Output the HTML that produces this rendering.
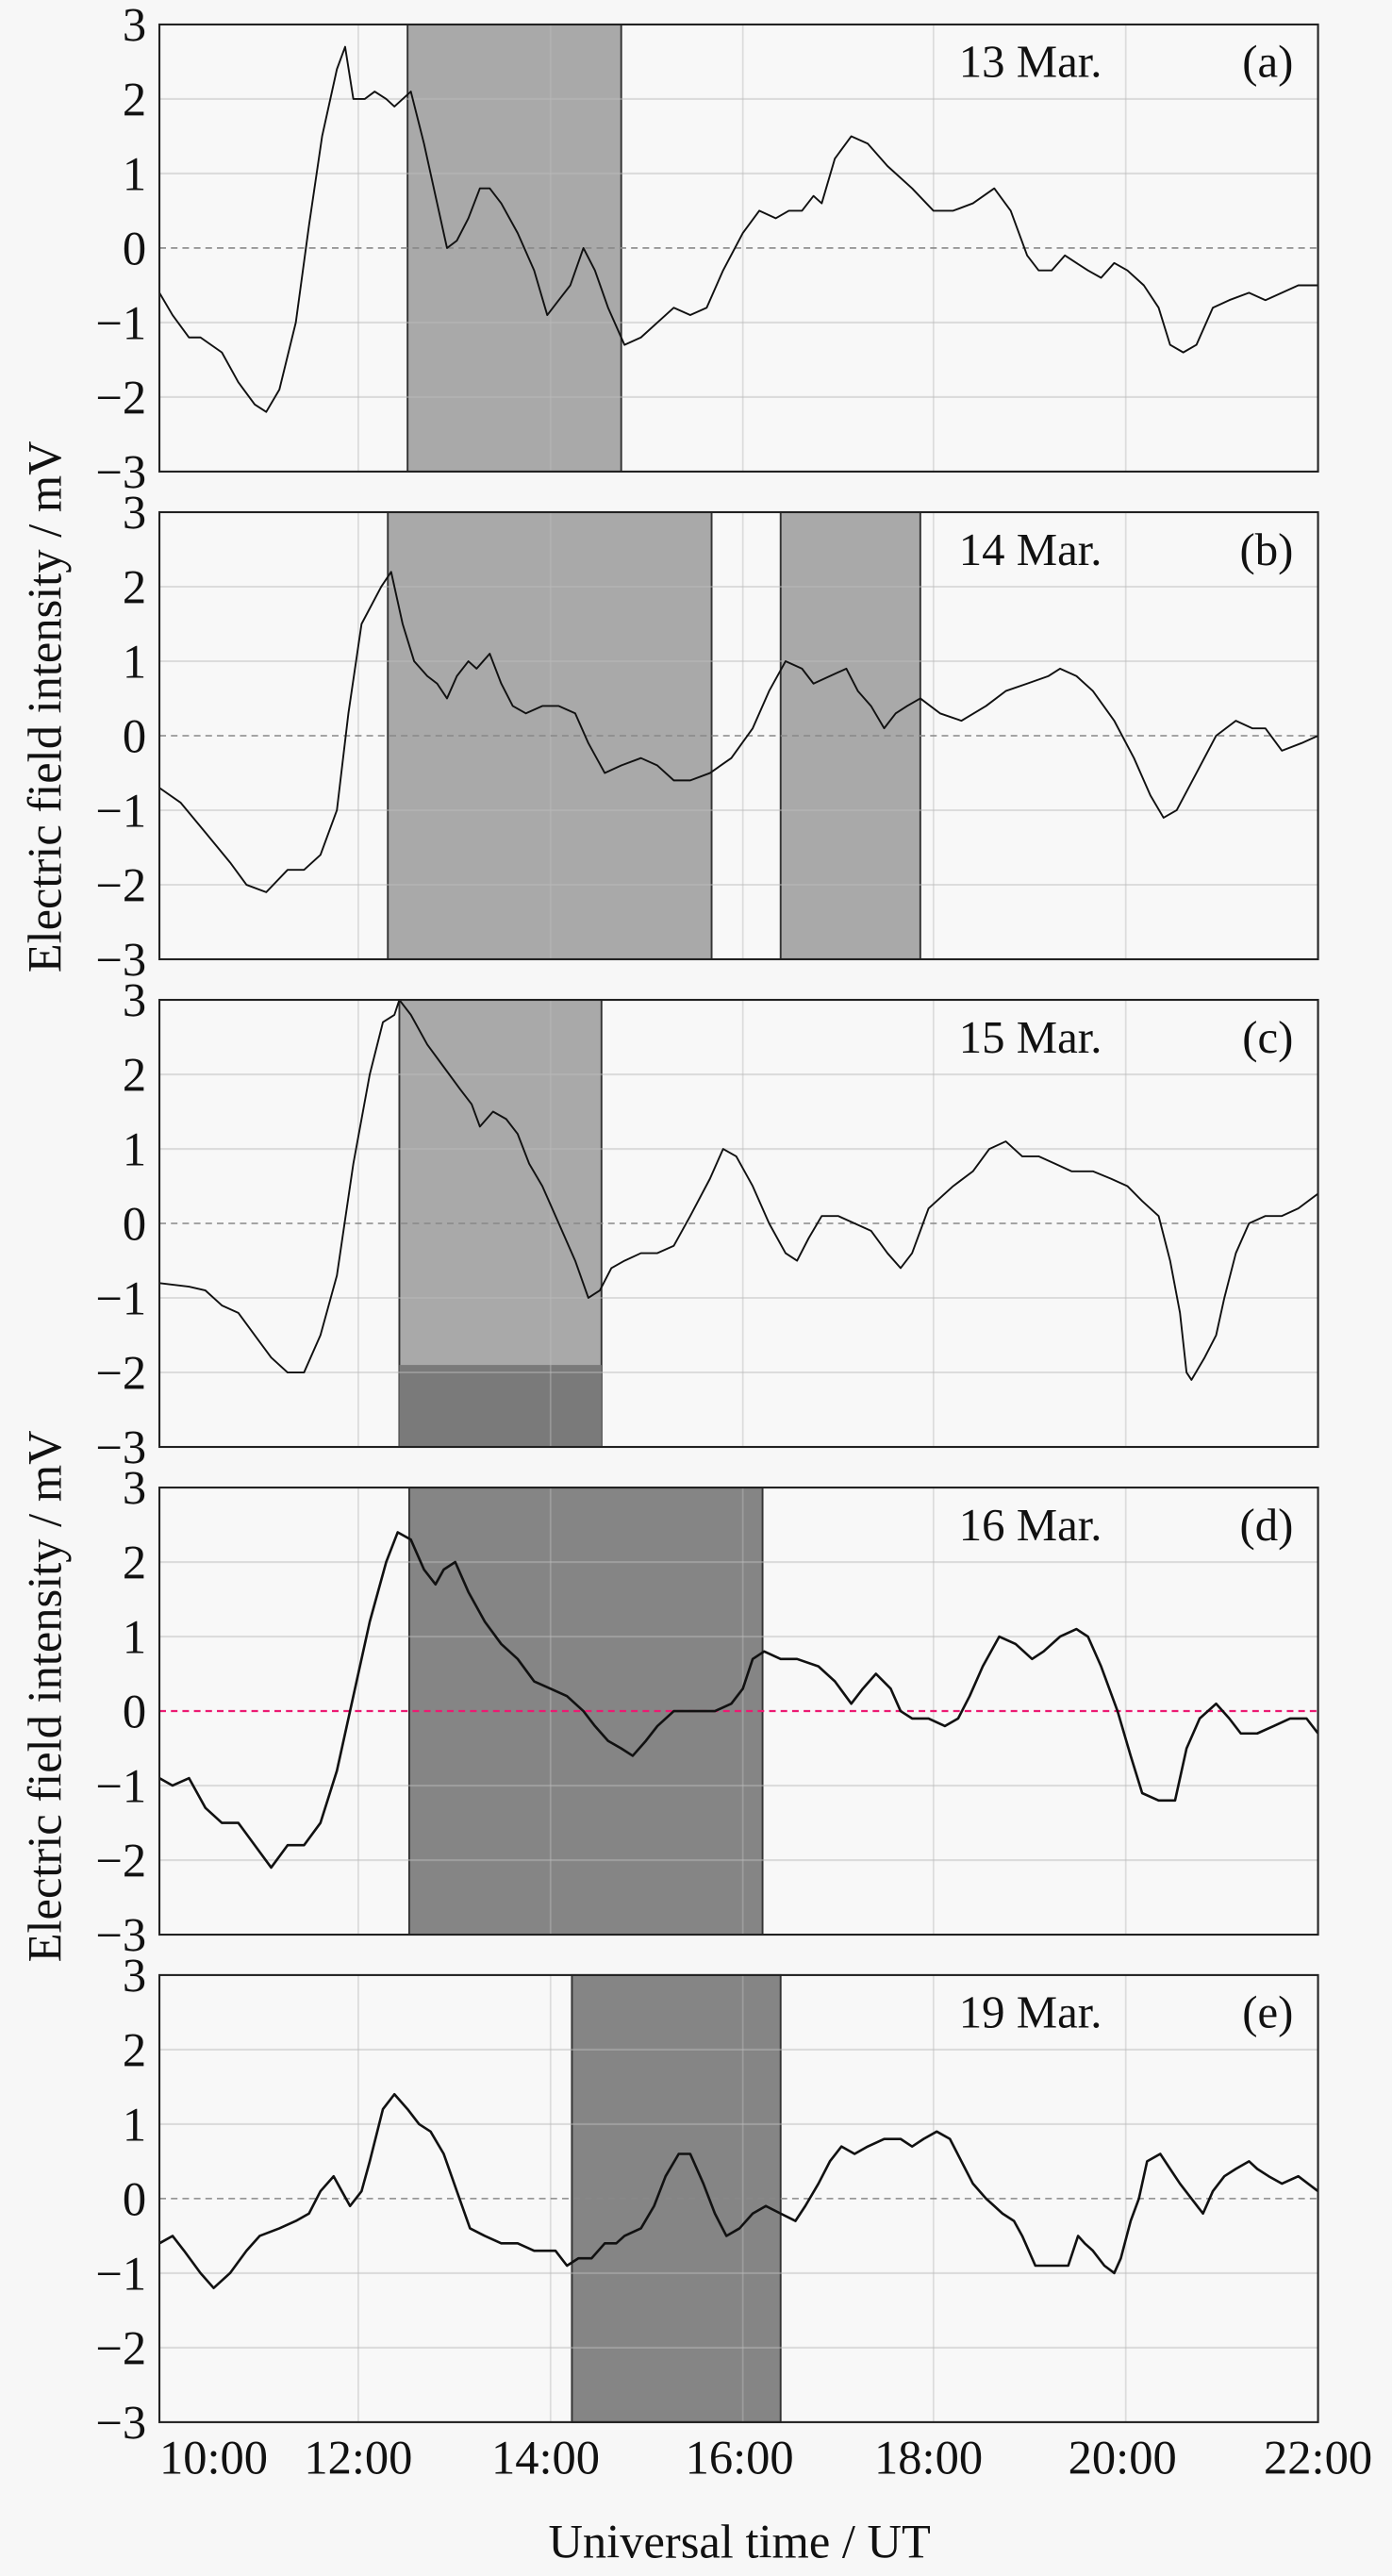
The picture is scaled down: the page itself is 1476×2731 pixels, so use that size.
<!DOCTYPE html>
<html><head><meta charset="utf-8"><style>
html,body{margin:0;padding:0;background:#f7f7f7;}
svg{display:block;}
text{font-family:"Liberation Serif",serif;fill:#111;}
</style></head><body>
<svg id="s" width="1476" height="2731" viewBox="0 0 1476 2731" xmlns="http://www.w3.org/2000/svg">
<rect width="1476" height="2731" fill="#f7f7f7"/>
<g id="g" transform="scale(1.7426)"></g>
</svg>
<script>
const NS="http://www.w3.org/2000/svg";
const g=document.getElementById('g');
function el(t,a,txt){const e=document.createElementNS(NS,t);for(const k in a)e.setAttribute(k,a[k]);if(txt!==undefined)e.textContent=txt;g.appendChild(e);return e;}
const L=97,R=802,H=272;
const tops=[14.9,311.6,608.3,905,1201.6];
const gx=[218,335,452,568,685];
const panels=[
 {date:"13 Mar.",lab:"(a)",shade:[[248,378,'#a9a9a9']],red:false,sw:1.1,
  d:[[97,-0.6],[105,-0.9],[115,-1.2],[122,-1.2],[135,-1.4],[145,-1.8],[155,-2.1],[162,-2.2],[170,-1.9],[180,-1.0],[188,0.3],[196,1.5],[205,2.4],[210,2.7],[215,2.0],[222,2.0],[228,2.1],[235,2.0],[240,1.9],[250,2.1],[258,1.4],[265,0.7],[272,0.0],[278,0.1],[285,0.4],[292,0.8],[298,0.8],[305,0.6],[315,0.2],[325,-0.3],[333,-0.9],[340,-0.7],[347,-0.5],[355,0.0],[362,-0.3],[370,-0.8],[380,-1.3],[390,-1.2],[400,-1.0],[410,-0.8],[420,-0.9],[430,-0.8],[440,-0.3],[452,0.2],[462,0.5],[472,0.4],[480,0.5],[488,0.5],[495,0.7],[500,0.6],[508,1.2],[518,1.5],[528,1.4],[540,1.1],[555,0.8],[568,0.5],[580,0.5],[592,0.6],[605,0.8],[615,0.5],[625,-0.1],[632,-0.3],[640,-0.3],[648,-0.1],[655,-0.2],[662,-0.3],[670,-0.4],[678,-0.2],[686,-0.3],[696,-0.5],[705,-0.8],[712,-1.3],[720,-1.4],[728,-1.3],[738,-0.8],[748,-0.7],[760,-0.6],[770,-0.7],[780,-0.6],[790,-0.5],[802,-0.5]]},
 {date:"14 Mar.",lab:"(b)",shade:[[236,433,'#a9a9a9'],[475,560,'#a9a9a9']],red:false,sw:1.1,
  d:[[97,-0.7],[110,-0.9],[125,-1.3],[140,-1.7],[150,-2.0],[162,-2.1],[175,-1.8],[185,-1.8],[195,-1.6],[205,-1.0],[212,0.3],[220,1.5],[232,2.0],[238,2.2],[245,1.5],[252,1.0],[260,0.8],[266,0.7],[272,0.5],[278,0.8],[285,1.0],[290,0.9],[298,1.1],[305,0.7],[312,0.4],[320,0.3],[330,0.4],[340,0.4],[350,0.3],[358,-0.1],[368,-0.5],[378,-0.4],[390,-0.3],[400,-0.4],[410,-0.6],[420,-0.6],[432,-0.5],[445,-0.3],[458,0.1],[468,0.6],[478,1.0],[488,0.9],[495,0.7],[505,0.8],[515,0.9],[522,0.6],[530,0.4],[538,0.1],[545,0.3],[552,0.4],[560,0.5],[572,0.3],[585,0.2],[600,0.4],[612,0.6],[625,0.7],[638,0.8],[645,0.9],[655,0.8],[665,0.6],[678,0.2],[690,-0.3],[700,-0.8],[708,-1.1],[716,-1.0],[728,-0.5],[740,0.0],[752,0.2],[762,0.1],[770,0.1],[780,-0.2],[792,-0.1],[802,0.0]]},
 {date:"15 Mar.",lab:"(c)",shade:[[243,366,'#a9a9a9']],dark:[243,366,-1.9],red:false,sw:1.1,
  d:[[97,-0.8],[115,-0.85],[125,-0.9],[135,-1.1],[145,-1.2],[155,-1.5],[165,-1.8],[175,-2.0],[185,-2.0],[195,-1.5],[205,-0.7],[215,0.8],[225,2.0],[233,2.7],[240,2.8],[243,3.0],[250,2.8],[260,2.4],[270,2.1],[280,1.8],[287,1.6],[292,1.3],[300,1.5],[308,1.4],[315,1.2],[322,0.8],[330,0.5],[340,0.0],[350,-0.5],[358,-1.0],[365,-0.9],[372,-0.6],[380,-0.5],[390,-0.4],[400,-0.4],[410,-0.3],[420,0.1],[432,0.6],[440,1.0],[448,0.9],[458,0.5],[468,0.0],[478,-0.4],[485,-0.5],[492,-0.2],[500,0.1],[510,0.1],[520,0.0],[530,-0.1],[540,-0.4],[548,-0.6],[555,-0.4],[560,-0.1],[565,0.2],[580,0.5],[592,0.7],[602,1.0],[612,1.1],[622,0.9],[632,0.9],[642,0.8],[652,0.7],[665,0.7],[676,0.6],[686,0.5],[695,0.3],[705,0.1],[712,-0.5],[718,-1.2],[722,-2.0],[725,-2.1],[733,-1.8],[740,-1.5],[745,-1.0],[752,-0.4],[760,0.0],[770,0.1],[780,0.1],[790,0.2],[802,0.4]]},
 {date:"16 Mar.",lab:"(d)",shade:[[249,464,'#858585']],red:true,sw:1.5,
  d:[[97,-0.9],[105,-1.0],[115,-0.9],[125,-1.3],[135,-1.5],[145,-1.5],[155,-1.8],[165,-2.1],[175,-1.8],[185,-1.8],[195,-1.5],[205,-0.8],[215,0.2],[225,1.2],[235,2.0],[242,2.4],[250,2.3],[258,1.9],[265,1.7],[270,1.9],[277,2.0],[285,1.6],[295,1.2],[305,0.9],[315,0.7],[325,0.4],[335,0.3],[345,0.2],[355,0.0],[362,-0.2],[370,-0.4],[378,-0.5],[385,-0.6],[393,-0.4],[400,-0.2],[410,0.0],[420,0.0],[435,0.0],[445,0.1],[452,0.3],[458,0.7],[465,0.8],[475,0.7],[485,0.7],[498,0.6],[508,0.4],[518,0.1],[525,0.3],[533,0.5],[542,0.3],[548,0.0],[555,-0.1],[565,-0.1],[575,-0.2],[583,-0.1],[590,0.2],[598,0.6],[608,1.0],[618,0.9],[628,0.7],[635,0.8],[645,1.0],[655,1.1],[662,1.0],[670,0.6],[680,0.0],[688,-0.6],[695,-1.1],[705,-1.2],[715,-1.2],[722,-0.5],[730,-0.1],[740,0.1],[748,-0.1],[755,-0.3],[765,-0.3],[775,-0.2],[785,-0.1],[795,-0.1],[802,-0.3]]},
 {date:"19 Mar.",lab:"(e)",shade:[[348,475,'#858585']],red:false,sw:1.5,
  d:[[97,-0.6],[105,-0.5],[112,-0.7],[122,-1.0],[130,-1.2],[140,-1.0],[150,-0.7],[158,-0.5],[170,-0.4],[180,-0.3],[188,-0.2],[195,0.1],[203,0.3],[208,0.1],[213,-0.1],[220,0.1],[225,0.5],[233,1.2],[240,1.4],[248,1.2],[255,1.0],[262,0.9],[270,0.6],[278,0.1],[286,-0.4],[295,-0.5],[305,-0.6],[315,-0.6],[325,-0.7],[338,-0.7],[345,-0.9],[352,-0.8],[360,-0.8],[368,-0.6],[375,-0.6],[380,-0.5],[390,-0.4],[398,-0.1],[405,0.3],[413,0.6],[420,0.6],[428,0.2],[435,-0.2],[442,-0.5],[450,-0.4],[458,-0.2],[466,-0.1],[475,-0.2],[484,-0.3],[490,-0.1],[498,0.2],[505,0.5],[512,0.7],[520,0.6],[528,0.7],[538,0.8],[548,0.8],[555,0.7],[562,0.8],[570,0.9],[578,0.8],[585,0.5],[592,0.2],[600,0.0],[605,-0.1],[610,-0.2],[617,-0.3],[622,-0.5],[630,-0.9],[640,-0.9],[650,-0.9],[656,-0.5],[660,-0.6],[665,-0.7],[672,-0.9],[678,-1.0],[682,-0.8],[688,-0.3],[693,0.0],[698,0.5],[706,0.6],[712,0.4],[718,0.2],[725,0.0],[732,-0.2],[738,0.1],[745,0.3],[752,0.4],[760,0.5],[765,0.4],[772,0.3],[780,0.2],[790,0.3],[802,0.1]]}
];
panels.forEach((p,i)=>{
 const T=tops[i];const Y=v=>T+(3-v)/6*H;
 el('rect',{x:L,y:T,width:R-L,height:H,fill:'#f8f8f8'});
 p.shade.forEach(s=>el('rect',{x:s[0],y:T,width:s[1]-s[0],height:H,fill:s[2],stroke:'#333','stroke-width':1.1}));
 if(p.dark) el('rect',{x:p.dark[0],y:Y(p.dark[2]),width:p.dark[1]-p.dark[0],height:Y(-3)-Y(p.dark[2]),fill:'#7a7a7a'});
 gx.forEach(x=>el('line',{x1:x,x2:x,y1:T,y2:T+H,stroke:'#bbb','stroke-opacity':0.45,'stroke-width':1}));
 [-2,-1,1,2].forEach(v=>el('line',{x1:L,x2:R,y1:Y(v),y2:Y(v),stroke:'#bbb','stroke-opacity':0.45,'stroke-width':1.2}));
 el('line',{x1:L,x2:R,y1:Y(0),y2:Y(0),stroke:p.red?'#ec1a72':'#888','stroke-width':p.red?1.3:0.9,'stroke-dasharray':'4,3'});
 el('polyline',{points:p.d.map(q=>q[0]+','+Y(q[1]).toFixed(1)).join(' '),fill:'none',stroke:'#111','stroke-width':p.sw,'stroke-linejoin':'round'});
 el('rect',{x:L,y:T,width:R-L,height:H,fill:'none',stroke:'#222','stroke-width':1.2});
 [3,2,1,0,-1,-2,-3].forEach(v=>el('text',{x:89,y:Y(v)+10,'font-size':29,'text-anchor':'end'},(v<0?'\u2212':'')+Math.abs(v)));
 el('text',{x:627,y:T+32,'font-size':28,'text-anchor':'middle'},p.date);
 el('text',{x:787,y:T+32,'font-size':28,'text-anchor':'end'},p.lab);
});
[[130,'10:00'],[218,'12:00'],[332,'14:00'],[450,'16:00'],[565,'18:00'],[683,'20:00'],[802,'22:00']].forEach(a=>el('text',{x:a[0],y:1505,'font-size':29,'text-anchor':'middle'},a[1]));
el('text',{x:450,y:1556,'font-size':29,'text-anchor':'middle'},'Universal time / UT');
[430,1032].forEach(c=>el('text',{x:0,y:0,'font-size':29,'text-anchor':'middle',transform:'translate(37,'+c+') rotate(-90)'},'Electric field intensity / mV'));
</script>
</body></html>
